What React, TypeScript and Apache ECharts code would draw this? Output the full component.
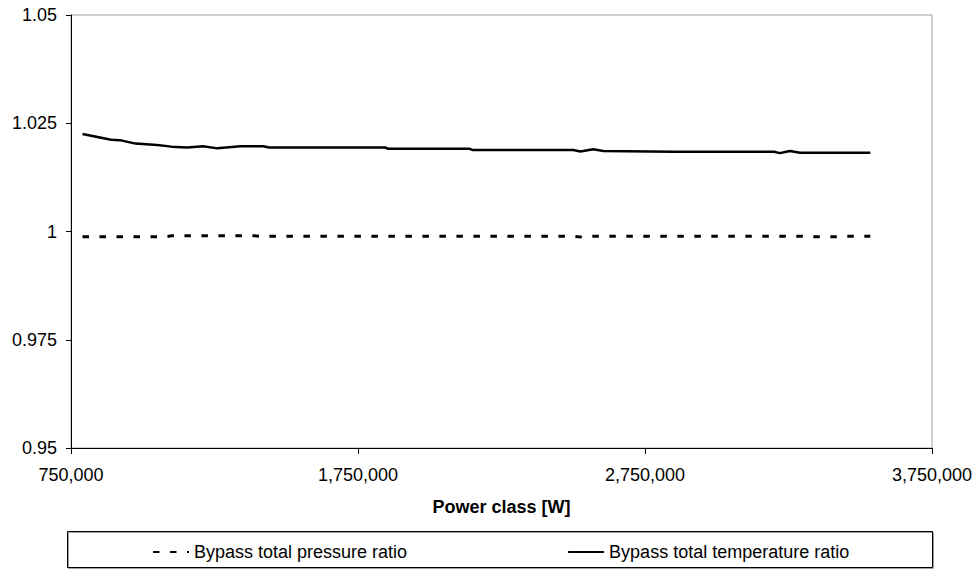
import React, { useEffect, useRef } from "react";
import * as echarts from "echarts";

const xTickLabels = ["750,000", "1,750,000", "2,750,000", "3,750,000"];
const yTickLabels = ["0.95", "0.975", "1", "1.025", "1.05"];

const tempPower = [790000, 890000, 920000, 975000, 1050000, 1100000, 1155000, 1210000, 1260000, 1340000, 1420000, 1440000, 1845000, 1855000, 2140000, 2150000, 2500000, 2525000, 2570000, 2605000, 2850000, 3200000, 3220000, 3255000, 3290000, 3535000];
const tempRatio = [1.0225, 1.0212, 1.0211, 1.0203, 1.02, 1.0196, 1.0194, 1.0197, 1.0192, 1.0197, 1.0197, 1.0194, 1.0194, 1.0191, 1.0191, 1.0188, 1.0188, 1.0185, 1.019, 1.0186, 1.0184, 1.0184, 1.0181, 1.0186, 1.0182, 1.0182];

const pressPower = [790000, 1080000, 1100000, 1250000, 1390000, 1410000, 2500000, 2530000, 2570000, 3300000, 3330000, 3420000, 3450000, 3535000];
const pressRatio = [0.9988, 0.9988, 0.999, 0.999, 0.999, 0.9989, 0.9989, 0.9987, 0.9989, 0.9989, 0.9988, 0.9988, 0.9989, 0.9989];

const FONT = "'Liberation Sans', Arial, sans-serif";
const FS = 18;

export default function App() {
  const ref = useRef<HTMLDivElement>(null);
  useEffect(() => {
    if (!ref.current) return;
    const chart = echarts.init(ref.current, undefined, { renderer: "svg" });
    const fmtX = (v: number) => {
      const idx = Math.round((v - 750000) / 1000000);
      return xTickLabels[idx] ?? "";
    };
    const fmtY = (v: number) => {
      const idx = Math.round((v - 0.95) / 0.025);
      return yTickLabels[idx] ?? "";
    };
    chart.setOption({
      animation: false,
      backgroundColor: "#ffffff",
      textStyle: { fontFamily: FONT },
      grid: {
        left: 71,
        right: 48,
        top: 15,
        bottom: 121,
        show: true,
        borderColor: "#a0a0a0",
        borderWidth: 1,
      },
      xAxis: {
        type: "value",
        min: 750000,
        max: 3750000,
        interval: 1000000,
        name: "Power class [W]",
        nameLocation: "middle",
        nameGap: 50,
        nameTextStyle: { fontFamily: FONT, fontSize: FS, fontWeight: "bold", color: "#000" },
        axisLine: { show: true, lineStyle: { color: "#000", width: 1 } },
        axisTick: { show: true, length: 6, inside: false, lineStyle: { color: "#000" } },
        axisLabel: { formatter: fmtX, fontFamily: FONT, fontSize: FS, color: "#000", margin: 18 },
        splitLine: { show: false },
      },
      yAxis: {
        type: "value",
        min: 0.95,
        max: 1.05,
        interval: 0.025,
        axisLine: { show: true, lineStyle: { color: "#000", width: 1 } },
        axisTick: { show: true, length: 5, inside: false, lineStyle: { color: "#000" } },
        axisLabel: { formatter: fmtY, fontFamily: FONT, fontSize: FS, color: "#000", margin: 14 },
        splitLine: { show: false },
      },
      legend: {
        left: 147,
        top: 538,
        itemWidth: 36,
        itemHeight: 14,
        itemGap: 160,
        itemStyle: { opacity: 0 },
        textStyle: { fontFamily: FONT, fontSize: FS, color: "#000" },
        data: ["Bypass total pressure ratio", "Bypass total temperature ratio"],
      },
      graphic: [
        {
          type: "rect",
          shape: { x: 68.5, y: 532.5, width: 865, height: 36 },
          style: { fill: "none", stroke: "#a0a0a0", lineWidth: 1 },
          silent: true,
        },
        {
          type: "rect",
          shape: { x: 67.5, y: 531.5, width: 865, height: 36 },
          style: { fill: "none", stroke: "#000", lineWidth: 1 },
          silent: true,
        },
      ],
      series: [
        {
          name: "Bypass total pressure ratio",
          type: "line",
          symbol: "none",
          data: pressPower.map((x, i) => [x, pressRatio[i]]),
          lineStyle: { color: "#000", width: 3, type: [6.5, 10.5], cap: "butt" },
          itemStyle: { color: "#000" },
        },
        {
          name: "Bypass total temperature ratio",
          type: "line",
          symbol: "none",
          data: tempPower.map((x, i) => [x, tempRatio[i]]),
          lineStyle: { color: "#000", width: 2.5 },
          itemStyle: { color: "#000" },
        },
      ],
    });
    return () => chart.dispose();
  }, []);
  return <div ref={ref} style={{ width: 980, height: 569, position: "absolute", left: 0, top: 0 }} />;
}
